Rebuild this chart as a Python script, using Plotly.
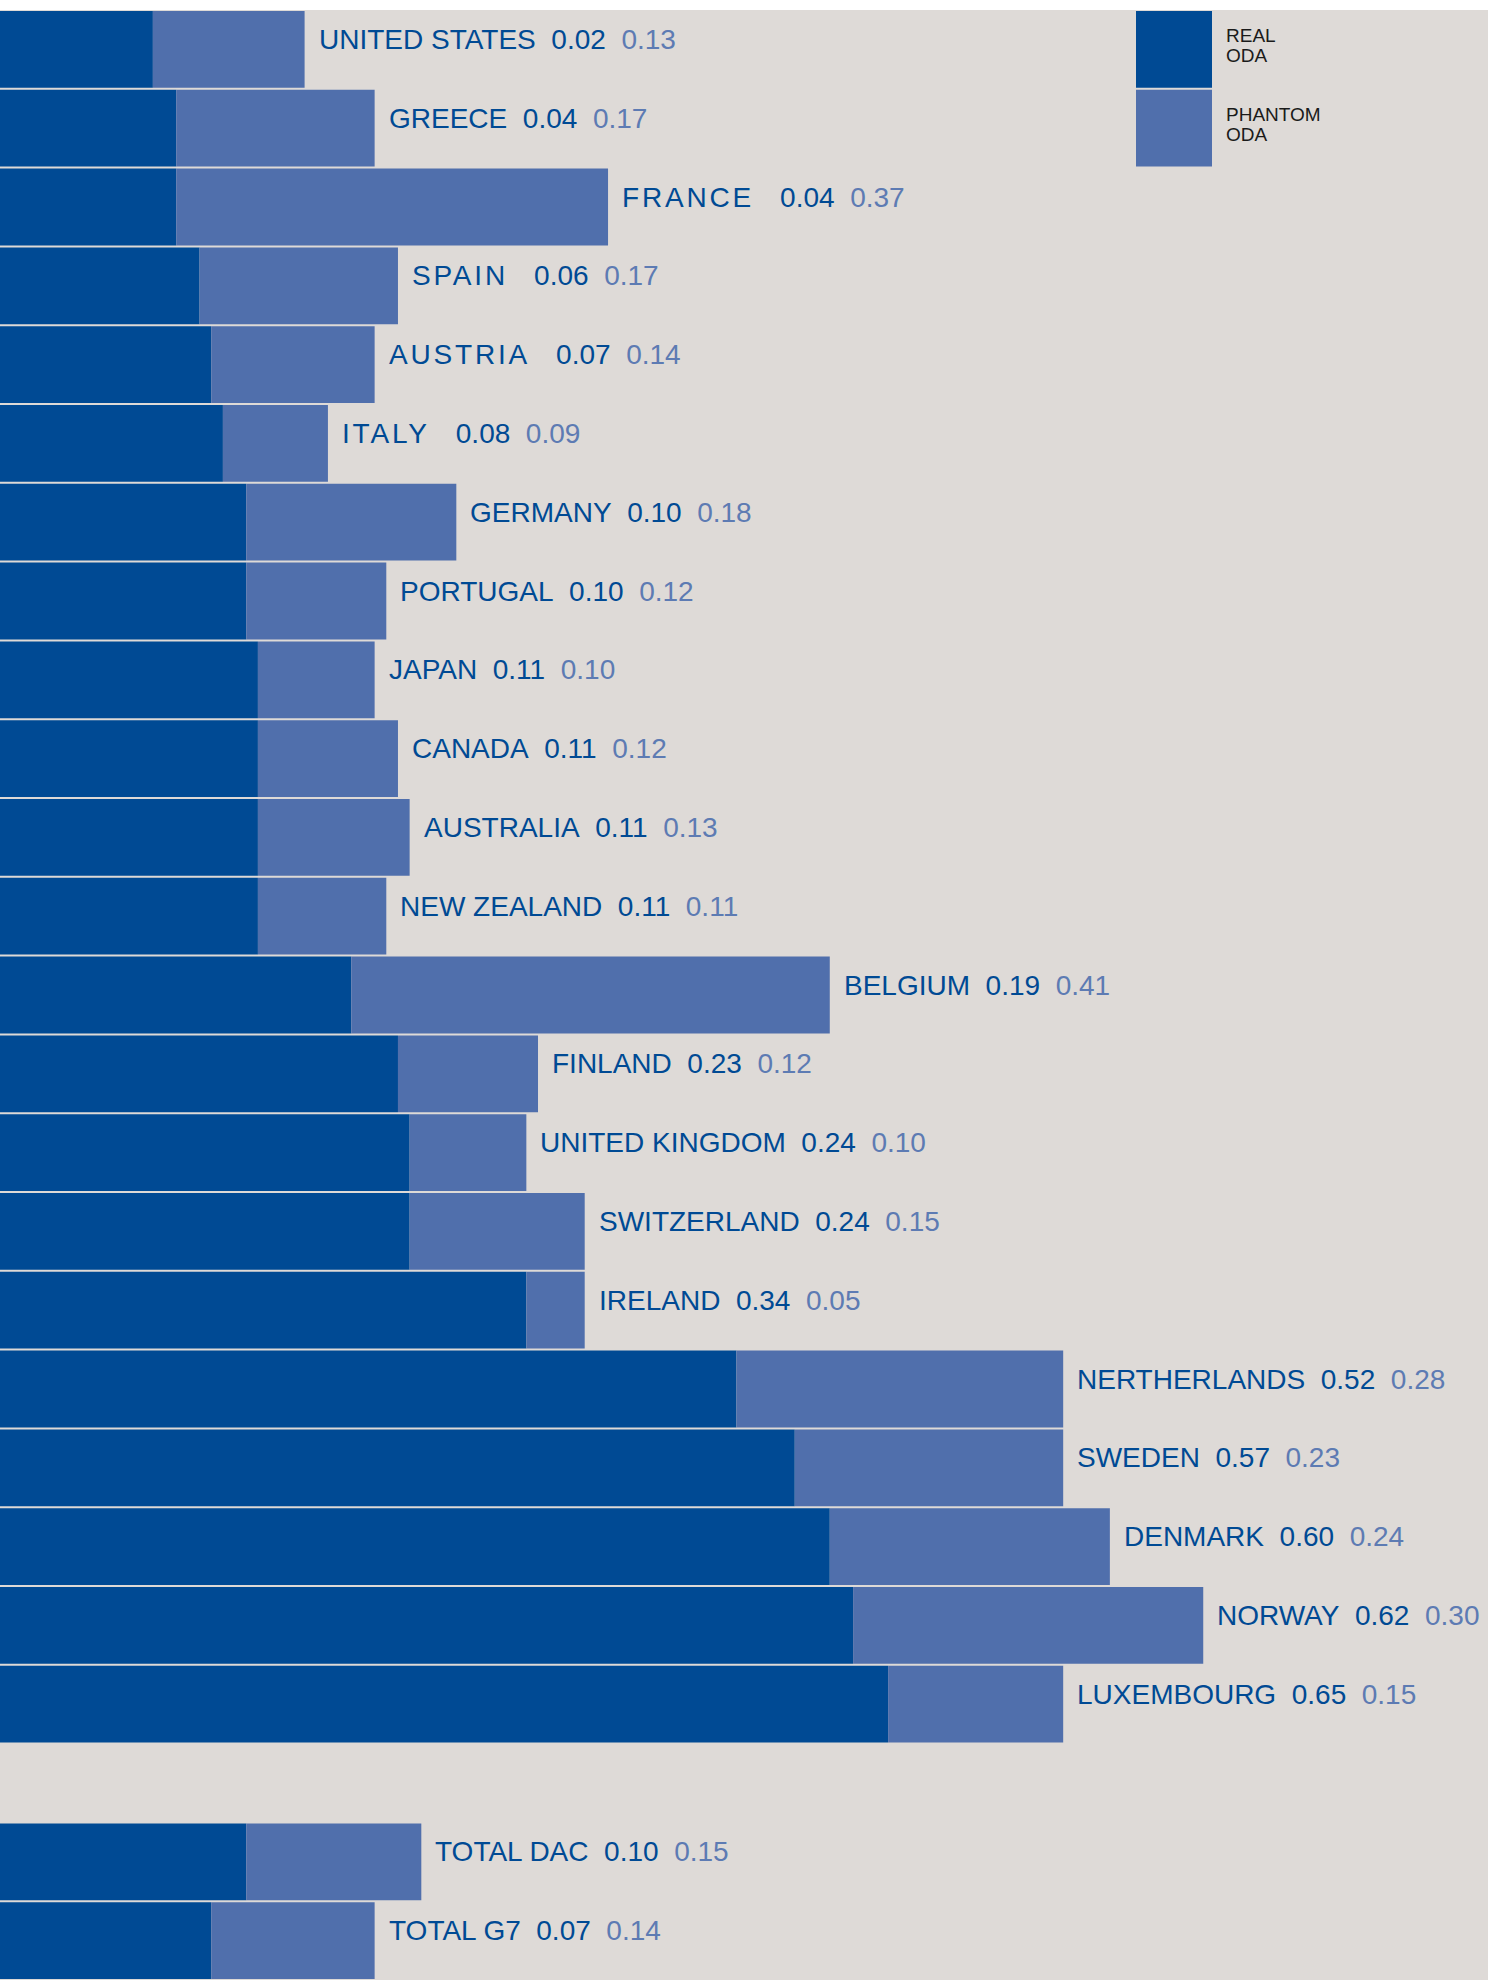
import plotly.graph_objects as go

countries = [
    "UNITED STATES", "GREECE", "FRANCE", "SPAIN", "AUSTRIA", "ITALY",
    "GERMANY", "PORTUGAL", "JAPAN", "CANADA", "AUSTRALIA", "NEW ZEALAND",
    "BELGIUM", "FINLAND", "UNITED KINGDOM", "SWITZERLAND", "IRELAND",
    "NERTHERLANDS", "SWEDEN", "DENMARK", "NORWAY", "LUXEMBOURG",
]
real_oda = [0.02, 0.04, 0.04, 0.06, 0.07, 0.08, 0.10, 0.10, 0.11, 0.11, 0.11,
            0.11, 0.19, 0.23, 0.24, 0.24, 0.34, 0.52, 0.57, 0.60, 0.62, 0.65]
phantom_oda = [0.13, 0.17, 0.37, 0.17, 0.14, 0.09, 0.18, 0.12, 0.10, 0.12, 0.13,
               0.11, 0.41, 0.12, 0.10, 0.15, 0.05, 0.28, 0.23, 0.24, 0.30, 0.15]

totals = ["TOTAL DAC", "TOTAL G7"]
totals_real = [0.10, 0.07]
totals_phantom = [0.15, 0.14]

# these names are letter-spaced in the original
tracked = {"FRANCE", "SPAIN", "AUSTRIA", "ITALY"}

REAL = "#004a94"
PHANTOM = "#506fac"
PHANTOM_TXT = "#5d7bb3"
BG = "#dedad7"
X0 = -0.111  # left edge of plot, bars start here

labels = countries + totals
real = real_oda + totals_real
phantom = phantom_oda + totals_phantom
# one empty row between countries and totals
rows = list(range(len(countries))) + [len(countries) + 1 + i for i in range(len(totals))]

fig = go.Figure()
fig.add_trace(go.Bar(
    y=rows, x=[r - X0 for r in real], base=X0, orientation="h",
    marker=dict(color=REAL, line=dict(width=0)), name="REAL ODA",
))
fig.add_trace(go.Bar(
    y=rows, x=phantom, base=real, orientation="h",
    marker=dict(color=PHANTOM, line=dict(width=0)), name="PHANTOM ODA",
))

nb = "\u00a0"
for lab, r, p, y in zip(labels, real, phantom, rows):
    name = f"<span style='letter-spacing:2.8px'>{lab}{nb}</span>" if lab in tracked else lab
    fig.add_annotation(
        x=r + p, y=y, xref="x", yref="y", xanchor="left", yanchor="middle",
        xshift=12, yshift=10, showarrow=False,
        text=f"{name}{nb*2}{r:.2f}{nb*2}<span style='color:{PHANTOM_TXT}'>{p:.2f}</span>",
        font=dict(family="Liberation Sans, Arial", size=28, color=REAL),
    )

# legend: boxes sit in the first two rows, text lines placed separately
legend_items = [(("REAL", "ODA"), REAL), (("PHANTOM", "ODA"), PHANTOM)]
for i, (lines, col) in enumerate(legend_items):
    fig.add_shape(type="rect", xref="paper", yref="y",
                  x0=1136 / 1488, x1=1212 / 1488, y0=i - 0.4875, y1=i + 0.4875,
                  fillcolor=col, line=dict(width=0), layer="above")
    for line, shift in zip(lines, (14, -6)):
        fig.add_annotation(
            x=1224 / 1488, y=i, xref="paper", yref="y", xanchor="left", yanchor="middle",
            yshift=shift, showarrow=False, text=line,
            font=dict(family="Liberation Sans, Arial", size=19, color="#1a1a1a"),
        )

fig.update_layout(
    width=1488, height=1980,
    margin=dict(l=0, r=0, t=10, b=0),
    paper_bgcolor="white", plot_bgcolor=BG,
    barmode="overlay", bargap=0.025,
    showlegend=False, hovermode=False,
    xaxis=dict(range=[X0, 1.164], visible=False, fixedrange=True),
    yaxis=dict(range=[len(rows) + 0.5, -0.5], visible=False, fixedrange=True),
)

fig.write_html("out.html", config={"displayModeBar": False},
               post_script="document.body.style.margin='0';document.body.style.overflow='hidden';")
